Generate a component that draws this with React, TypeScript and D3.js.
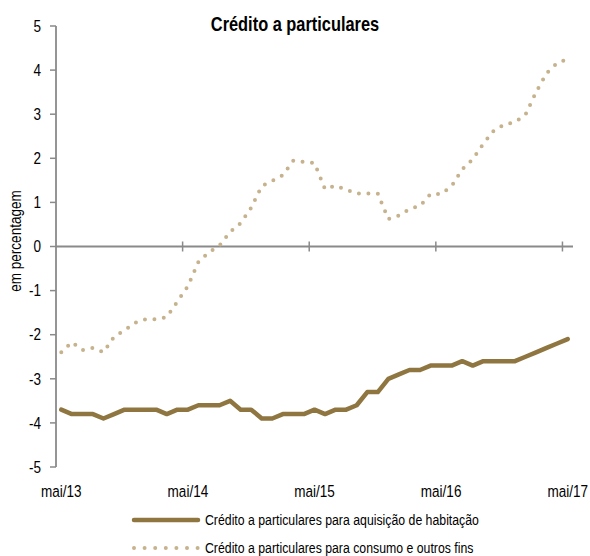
import React from "react";
import * as d3 from "d3";

const title = "Crédito a particulares";
const yAxisLabel = "em percentagem";
const months = Array.from({ length: 49 }, (_, i) => i);
const tickLabels = ["mai/13", "mai/14", "mai/15", "mai/16", "mai/17"];
const yTicks = [-5, -4, -3, -2, -1, 0, 1, 2, 3, 4, 5];

const habitacao = [
  -3.7, -3.8, -3.8, -3.8, -3.9, -3.8, -3.7, -3.7, -3.7, -3.7, -3.8, -3.7,
  -3.7, -3.6, -3.6, -3.6, -3.5, -3.7, -3.7, -3.9, -3.9, -3.8, -3.8, -3.8,
  -3.7, -3.8, -3.7, -3.7, -3.6, -3.3, -3.3, -3.0, -2.9, -2.8, -2.8, -2.7,
  -2.7, -2.7, -2.6, -2.7, -2.6, -2.6, -2.6, -2.6, -2.5, -2.4, -2.3, -2.2,
  -2.1,
];

const consumo = [
  -2.4, -2.17, -2.35, -2.3, -2.4, -2.05, -1.9, -1.73, -1.65, -1.65, -1.6, -1.25,
  -0.9, -0.35, -0.13, 0.02, 0.33, 0.53, 0.88, 1.37, 1.49, 1.62, 1.95, 1.92,
  1.89, 1.3, 1.38, 1.29, 1.2, 1.2, 1.2, 0.62, 0.7, 0.85, 0.92, 1.19,
  1.19, 1.37, 1.75, 1.98, 2.33, 2.63, 2.77, 2.82, 2.99, 3.5, 3.93, 4.16,
  4.25,
];

const legendLabels = [
  "Crédito a particulares para aquisição de habitação",
  "Crédito a particulares para consumo e outros fins",
];

const COLOR_SOLID = "#8f7641";
const COLOR_DOT = "#c6b28d";
const AXIS = "#8a8a8a";
const FONT = "'Liberation Sans', Arial, sans-serif";
const NARROW = 0.82;

function NText(props: {
  x: number;
  y: number;
  size: number;
  anchor?: "start" | "middle" | "end";
  bold?: boolean;
  rotate?: number;
  dy?: string;
  children: React.ReactNode;
}) {
  const { x, y, size, anchor = "start", bold, rotate = 0, dy, children } = props;
  return (
    <text
      transform={`translate(${x},${y}) rotate(${rotate}) scale(${NARROW},1)`}
      textAnchor={anchor}
      fontSize={size}
      fontWeight={bold ? "bold" : "normal"}
      fill="#000"
      dy={dy}
    >
      {children}
    </text>
  );
}

export default function App() {
  const W = 590;
  const H = 556;
  const x = d3.scaleBand<number>().domain(months).range([56, 573]);
  const cx = (i: number) => (x(i) as number) + x.bandwidth() / 2;
  const y = d3.scaleLinear().domain([-5, 5]).range([467, 26]);

  const line = d3
    .line<number>()
    .x((_, i) => cx(i))
    .y((d) => y(d));

  const tickIdx = months.filter((i) => i % 12 === 0);

  return (
    <svg
      width={W}
      height={H}
      style={{ position: "absolute", left: 0, top: 0, background: "#fff" }}
      fontFamily={FONT}
    >
      <rect width={W} height={H} fill="#fff" />
      <NText x={295} y={31} size={20} anchor="middle" bold>
        {title}
      </NText>

      {/* y axis */}
      <line x1={56} x2={56} y1={y(5)} y2={y(-5)} stroke={AXIS} strokeWidth={1.8} />
      {yTicks.map((t) => (
        <g key={t}>
          <line x1={50} x2={56} y1={y(t)} y2={y(t)} stroke={AXIS} strokeWidth={1.5} />
          <NText x={41} y={y(t)} size={16.5} anchor="end" dy="0.35em">
            {t}
          </NText>
        </g>
      ))}
      <NText x={21} y={241} size={16.5} anchor="middle" rotate={-90}>
        {yAxisLabel}
      </NText>

      {/* x axis at zero */}
      <line x1={56} x2={573} y1={y(0)} y2={y(0)} stroke={AXIS} strokeWidth={1.8} />
      {tickIdx.map((i, k) => (
        <g key={i}>
          {k > 0 && (
            <line
              x1={x(i) as number}
              x2={x(i) as number}
              y1={y(0) - 5}
              y2={y(0) + 5}
              stroke={AXIS}
              strokeWidth={1.5}
            />
          )}
          <NText x={cx(i)} y={496.5} size={16.5} anchor="middle">
            {tickLabels[k]}
          </NText>
        </g>
      ))}

      {/* series */}
      <path
        d={line(consumo) || ""}
        fill="none"
        stroke={COLOR_DOT}
        strokeWidth={4}
        strokeLinecap="round"
        strokeDasharray="0 9.5"
      />
      <path
        d={line(habitacao) || ""}
        fill="none"
        stroke={COLOR_SOLID}
        strokeWidth={4.5}
        strokeLinejoin="round"
        strokeLinecap="round"
      />

      {/* legend */}
      <line x1={134} x2={198} y1={520} y2={520} stroke={COLOR_SOLID} strokeWidth={4.5} strokeLinecap="round" />
      <NText x={205} y={525} size={15}>
        {legendLabels[0]}
      </NText>
      <line
        x1={134}
        x2={198}
        y1={548}
        y2={548}
        stroke={COLOR_DOT}
        strokeWidth={4}
        strokeLinecap="round"
        strokeDasharray="0 10.6"
      />
      <NText x={205} y={553} size={15}>
        {legendLabels[1]}
      </NText>
    </svg>
  );
}
